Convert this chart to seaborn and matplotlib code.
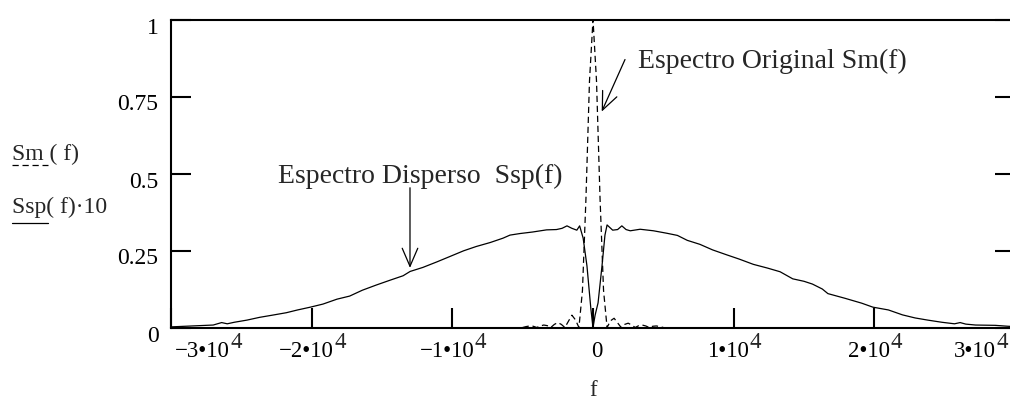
import numpy as np
import pandas as pd
import matplotlib
matplotlib.use("Agg")
import matplotlib.pyplot as plt
from matplotlib.lines import Line2D
from matplotlib.transforms import ScaledTranslation
import seaborn as sns

# ---- data ----
f_sm = [-5000, -4750, -4500, -4250, -4000, -3750, -3500, -3250, -3000, -2750, -2500, -2250,
        -2000, -1750, -1500, -1250, -1000, -750, -500, -250, 0,
        250, 500, 750, 1000, 1250, 1500, 1750, 2000, 2250, 2500, 2750, 3000,
        3250, 3500, 3750, 4000, 4250, 4500, 4750, 5000]
sm_vals = [0.0, 0.003, 0.005, 0.004, 0.0, 0.005, 0.008, 0.006, 0.0, 0.01, 0.016, 0.01,
           0.0, 0.02, 0.04, 0.025, 0.0, 0.12, 0.42, 0.80, 1.0,
           0.80, 0.42, 0.12, 0.0, 0.022, 0.03, 0.015, 0.0, 0.01, 0.014, 0.008, 0.0,
           0.006, 0.008, 0.005, 0.0, 0.004, 0.005, 0.003, 0.0]

f_ssp = [-30000, -29000, -28000, -27000, -26400, -26000, -25500, -24600, -23700, -22800,
         -21800, -21000, -20100, -19200, -18200, -17300, -16400, -15400, -14400, -13500,
         -13000, -12100, -11100, -10200, -9200, -8300, -7300, -6400, -5900, -5200,
         -4300, -3300, -2600, -2200, -1850, -1500, -1150, -950, -700, -430, -150, 0,
         150, 360, 640, 850, 1000, 1400, 1750, 2050, 2350, 2650, 3350, 4300, 5250,
         6000, 6700, 7600, 8500, 9500, 10400, 11400, 12400, 13300, 14200, 15000,
         15600, 16300, 16700, 17900, 19100, 19900, 21000, 22000, 22900, 23800,
         24800, 25700, 26100, 26500, 27200, 28600, 29500, 30000]
ssp10_vals = [0.002, 0.004, 0.006, 0.008, 0.016, 0.012, 0.017, 0.024, 0.033, 0.040,
              0.048, 0.057, 0.066, 0.076, 0.092, 0.102, 0.121, 0.138, 0.154, 0.168,
              0.182, 0.195, 0.213, 0.230, 0.249, 0.263, 0.276, 0.290, 0.300, 0.305,
              0.310, 0.317, 0.318, 0.322, 0.330, 0.322, 0.316, 0.330, 0.290, 0.200, 0.060, 0.0,
              0.040, 0.080, 0.200, 0.300, 0.333, 0.316, 0.318, 0.330, 0.318, 0.314, 0.319, 0.314, 0.306,
              0.299, 0.283, 0.270, 0.252, 0.236, 0.222, 0.205, 0.193, 0.181, 0.158, 0.150,
              0.141, 0.125, 0.110, 0.095, 0.079, 0.066, 0.057, 0.041, 0.031, 0.024,
              0.017, 0.012, 0.016, 0.011, 0.008, 0.007, 0.004, 0.003]

x_ticks = [-30000, -20000, -10000, 0, 10000, 20000, 30000]
x_tick_mant = ["−3•10", "−2•10", "−1•10", "0", "1•10", "2•10", "3•10"]
x_tick_exp = ["4", "4", "4", "", "4", "4", "4"]
y_ticks = [0, 0.25, 0.5, 0.75, 1]
y_tick_labels = ["0", "0.25", "0.5", "0.75", "1"]

# ---- style ----
sns.set_theme(style="white")
plt.rcParams["font.family"] = ["Liberation Serif", "DejaVu Serif"]

W, H = 1010, 400
fig = plt.figure(figsize=(W / 100, H / 100), dpi=100)
ax = fig.add_axes([171 / W, 72.5 / H, (1015 - 171) / W, 308 / H])

df_sm = pd.DataFrame({"f": f_sm, "v": sm_vals})
df_ssp = pd.DataFrame({"f": f_ssp, "v": ssp10_vals})

sns.lineplot(data=df_ssp, x="f", y="v", ax=ax, color="black", lw=0.9,
             estimator=None, sort=False)
sns.lineplot(data=df_sm, x="f", y="v", ax=ax, color="black", lw=0.9,
             linestyle=(0, (5, 3)), estimator=None, sort=False)

ax.set_xlim(-30000, 30000)
ax.set_ylim(0, 1)
ax.set_xlabel("")
ax.set_ylabel("")

for s in ax.spines.values():
    s.set_visible(True)
    s.set_color("black")
    s.set_linewidth(1.5)

ax.set_xticks(x_ticks)
ax.set_xticklabels(x_tick_mant)
ax.set_yticks(y_ticks)
ax.set_yticklabels(y_tick_labels)
ax.tick_params(axis="both", direction="in", length=14.5, width=1.5, color="black",
               labelcolor="black")
ax.tick_params(axis="x", bottom=True, top=False, pad=10, labelsize=16.5)
ax.tick_params(axis="y", left=True, right=True, labelright=False, pad=9, labelsize=17)

# shift y tick labels slightly downward (Mathcad style)
for lbl in ax.get_yticklabels():
    lbl.set_transform(lbl.get_transform() + ScaledTranslation(0, -6 / 100, fig.dpi_scale_trans))

xl = ax.get_xticklabels()
shifts = [4, -5.5, -5.5, 4, -5.5, -5.5, -19]
for i, lbl in enumerate(xl):
    if i == 0:
        lbl.set_ha("left")
    elif i == len(xl) - 1:
        lbl.set_ha("right")
    lbl.set_transform(lbl.get_transform() + ScaledTranslation(shifts[i] / 100, 0, fig.dpi_scale_trans))

# exponents placed at the right of each rendered tick label (Mathcad full-size superscript)
fig.canvas.draw()
renderer = fig.canvas.get_renderer()
for lbl, ex in zip(ax.get_xticklabels(), x_tick_exp):
    if not ex:
        continue
    bb = lbl.get_window_extent(renderer)
    fig.text((bb.x1 + 0.5) / W, 1 - 348 / H, ex, fontsize=16.5, ha="left", va="baseline")

# x label
ax.text(0.5, -0.17, "f", transform=ax.transAxes, ha="center", va="top", fontsize=16.5)

# Mathcad-style y-axis trace legend
fig.text(12 / W, 1 - 160 / H, "Sm ( f)", fontsize=17, ha="left", va="baseline")
fig.add_artist(Line2D([12 / W, 48 / W], [1 - 164.5 / H] * 2, transform=fig.transFigure,
                      color="black", lw=0.9, linestyle=(0, (5, 3))))
fig.text(12 / W, 1 - 213 / H, "Ssp( f)·10", fontsize=17, ha="left", va="baseline")
fig.add_artist(Line2D([12 / W, 48 / W], [1 - 223 / H] * 2, transform=fig.transFigure,
                      color="black", lw=0.9))

# annotations
arrow_kw = dict(arrowstyle="->,head_length=0.65,head_width=0.28", lw=0.9, color="black",
                shrinkA=0, shrinkB=0, mutation_scale=20)
ax.annotate("", xy=(619, 0.701), xytext=(2275, 0.87), arrowprops=arrow_kw)
ax.text(3200, 0.841, "Espectro Original Sm(f)", fontsize=20, ha="left", va="baseline")
ax.annotate("", xy=(-13010, 0.1935), xytext=(-13010, 0.4537), arrowprops=arrow_kw)
ax.text(-22400, 0.47, "Espectro Disperso  Ssp(f)", fontsize=20, ha="left", va="baseline")

fig.savefig("out.png", dpi=100, facecolor="white")
